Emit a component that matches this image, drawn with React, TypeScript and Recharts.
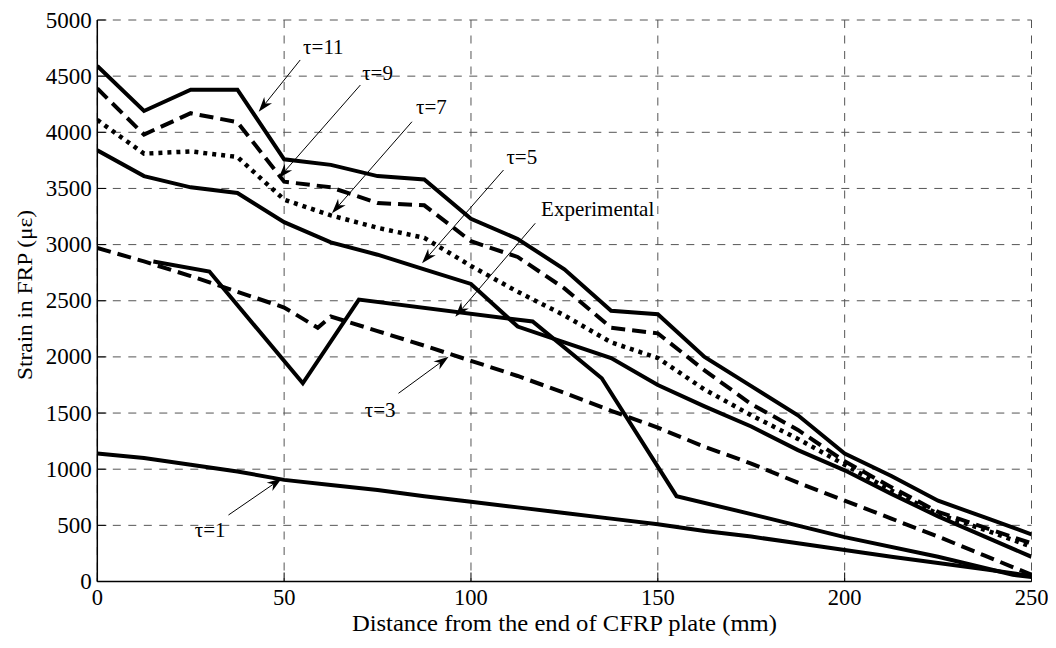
import React from "react";
import {
  LineChart,
  Line,
  XAxis,
  YAxis,
  CartesianGrid,
  ReferenceLine,
  ReferenceDot,
} from "recharts";

// model output grid (mm)
const gridX = [
  0, 12.5, 25, 37.5, 50, 62.5, 75, 87.5, 100, 112.5, 125, 137.5, 150, 162.5,
  175, 187.5, 200, 212.5, 225, 237.5, 250,
];

const tau11 = [
  4590, 4190, 4380, 4380, 3760, 3710, 3610, 3580, 3230, 3050, 2780, 2410, 2380,
  2000, 1740, 1480, 1140, 940, 720, 570, 420,
];
const tau9 = [
  4390, 3980, 4170, 4090, 3560, 3510, 3370, 3350, 3030, 2890, 2610, 2260, 2210,
  1880, 1580, 1350, 1070, 840, 620, 480, 340,
];
const tau7 = [
  4110, 3810, 3830, 3780, 3400, 3260, 3150, 3060, 2810, 2580, 2370, 2130, 1990,
  1710, 1480, 1270, 1040, 810, 600, 460, 310,
];
const tau5 = [
  3840, 3610, 3510, 3460, 3200, 3020, 2910, 2780, 2650, 2270, 2130, 1990, 1750,
  1560, 1380, 1170, 990, 780, 580, 400, 220,
];
const tau1 = [
  1140, 1100, 1040, 980, 905, 860, 815, 760, 710, 660, 610, 560, 510, 450, 400,
  340, 280, 220, 165, 110, 50,
];

const tau3X = [
  0, 12.5, 25, 37.5, 50, 59, 62.5, 75, 87.5, 100, 112.5, 125, 137.5, 150, 162.5,
  175, 187.5, 200, 212.5, 225, 237.5, 250,
];
const tau3 = [
  2970, 2850, 2720, 2580, 2440, 2260, 2360, 2230, 2100, 1965, 1830, 1680, 1520,
  1370, 1200, 1050, 880, 720, 560, 400, 230, 60,
];

const expX = [15, 30, 55, 70, 116.5, 135, 155, 175, 200, 225, 245, 250];
const expY = [2850, 2760, 1765, 2510, 2315, 1810, 760, 600, 395, 220, 60, 40];

const xTicks = [0, 50, 100, 150, 200, 250];
const yTicks = [0, 500, 1000, 1500, 2000, 2500, 3000, 3500, 4000, 4500, 5000];

// annotation: label centre (tx, ty), arrow tail (x1, y1) -> head (x2, y2)
const notes = [
  { text: "τ=11", tx: 60.5, ty: 4762, x1: 54.3, y1: 4644, x2: 43.2, y2: 4183 },
  { text: "τ=9", tx: 75.0, ty: 4524, x1: 70.4, y1: 4421, x2: 48.5, y2: 3590 },
  { text: "τ=7", tx: 89.4, ty: 4225, x1: 84.2, y1: 4094, x2: 62.8, y2: 3279 },
  { text: "τ=5", tx: 113.6, ty: 3776, x1: 108.7, y1: 3664, x2: 86.9, y2: 2834 },
  { text: "Experimental", tx: 133.9, ty: 3321, x1: 117.2, y1: 3190, x2: 95.8, y2: 2358 },
  { text: "τ=3", tx: 75.7, ty: 1527, x1: 80.6, y1: 1676, x2: 94.0, y2: 2002 },
  { text: "τ=1", tx: 30.2, ty: 463, x1: 35.1, y1: 592, x2: 49.4, y2: 919 },
];

const FONT = '"Liberation Serif", "Times New Roman", serif';
const TICK_IN = 9;

const pts = (xs: number[], ys: number[]) => xs.map((x, i) => ({ x, y: ys[i] }));

const LeftTick = ({ x, y, payload }: any) => (
  <g>
    <line x1={x} x2={x + TICK_IN} y1={y} y2={y} stroke="#000" strokeWidth={1} />
    <text x={x - 5.5} y={y} dy={7.5} textAnchor="end" fontSize={23} fontFamily={FONT} fill="#000">
      {payload.value}
    </text>
  </g>
);

const BottomTick = ({ x, y, payload }: any) => (
  <g>
    <line x1={x} x2={x} y1={y} y2={y - TICK_IN} stroke="#000" strokeWidth={1} />
    <text x={x} y={y + 23} textAnchor="middle" fontSize={22.5} fontFamily={FONT} fill="#000">
      {payload.value}
    </text>
  </g>
);

const TopTick = ({ x, y }: any) => (
  <line x1={x} x2={x} y1={y} y2={y + TICK_IN} stroke="#000" strokeWidth={1} />
);

const RightTick = ({ x, y }: any) => (
  <line x1={x} x2={x - TICK_IN} y1={y} y2={y} stroke="#000" strokeWidth={1} />
);

const Arrow = (props: any) => {
  const { x1, y1, x2, y2 } = props;
  const a = Math.atan2(y2 - y1, x2 - x1);
  const L = 15;
  const W = 5;
  const c = Math.cos(a);
  const s = Math.sin(a);
  const bx = x2 - L * c;
  const by = y2 - L * s;
  const nx = x2 - L * 0.7 * c;
  const ny = y2 - L * 0.7 * s;
  const p = [
    `${x2},${y2}`,
    `${bx - W * s},${by + W * c}`,
    `${nx},${ny}`,
    `${bx + W * s},${by - W * c}`,
  ].join(" ");
  return (
    <g>
      <line x1={x1} y1={y1} x2={nx} y2={ny} stroke="#000" strokeWidth={1} />
      <polygon points={p} fill="#000" />
    </g>
  );
};

const noteText = (text: string) => (props: any) => (
  <text
    x={props.cx}
    y={props.cy}
    dy={7}
    textAnchor="middle"
    fontSize={21}
    fontFamily={FONT}
    fill="#000"
  >
    {text}
  </text>
);

const XLabel = ({ viewBox }: any) => (
  <text
    x={viewBox.x + viewBox.width / 2}
    y={viewBox.y + 49}
    textAnchor="middle"
    fontSize={23.5}
    fontFamily={FONT}
    textLength={425}
    lengthAdjust="spacingAndGlyphs"
    fill="#000"
  >
    Distance from the end of CFRP plate (mm)
  </text>
);

const YLabel = () => {
  const cx = 24;
  const cy = 287;
  return (
    <text
      x={cx}
      y={cy}
      transform={`rotate(-90 ${cx} ${cy})`}
      textAnchor="middle"
      fontSize={22}
      fontFamily={FONT}
      textLength={170}
      lengthAdjust="spacingAndGlyphs"
      fill="#000"
    >
      Strain in FRP (με)
    </text>
  );
};

const lineCommon = {
  type: "linear" as const,
  dataKey: "y",
  stroke: "#000",
  strokeWidth: 4,
  dot: false,
  activeDot: false,
  isAnimationActive: false,
  strokeLinejoin: "miter" as const,
  strokeLinecap: "butt" as const,
};

export default function App() {
  return (
    <div style={{ width: 1040, height: 632, background: "#fff" }}>
      <LineChart
        width={1040}
        height={632}
        margin={{ top: 12, right: 16.5, bottom: 8.5, left: 9.3 }}
      >
        <CartesianGrid stroke="#555" strokeDasharray="8 7.5" strokeWidth={1} />
        <XAxis
          type="number"
          dataKey="x"
          domain={[0, 250]}
          ticks={xTicks}
          interval={0}
          height={50}
          tickSize={0}
          tickMargin={0}
          tickLine={false}
          tick={<BottomTick />}
          axisLine={{ stroke: "#000", strokeWidth: 1.5 }}
          label={<XLabel />}
          allowDataOverflow
        />
        <XAxis
          xAxisId="t"
          orientation="top"
          type="number"
          domain={[0, 250]}
          ticks={xTicks}
          interval={0}
          height={0}
          tickSize={0}
          tickMargin={0}
          tickLine={false}
          tick={<TopTick />}
          axisLine={{ stroke: "#000", strokeWidth: 1.5 }}
        />
        <YAxis
          type="number"
          domain={[0, 5000]}
          ticks={yTicks}
          interval={0}
          width={80}
          tickSize={0}
          tickMargin={0}
          tickLine={false}
          tick={<LeftTick />}
          axisLine={{ stroke: "#000", strokeWidth: 1.5 }}
          label={<YLabel />}
          allowDataOverflow
        />
        <YAxis
          yAxisId="r"
          orientation="right"
          type="number"
          domain={[0, 5000]}
          ticks={yTicks}
          interval={0}
          width={0}
          tickSize={0}
          tickMargin={0}
          tickLine={false}
          tick={<RightTick />}
          axisLine={{ stroke: "#000", strokeWidth: 1.5 }}
        />

        <Line {...lineCommon} data={pts(gridX, tau1)} name="τ=1" />
        <Line {...lineCommon} data={pts(tau3X, tau3)} name="τ=3" strokeDasharray="14 7" />
        <Line {...lineCommon} data={pts(expX, expY)} name="Experimental" />
        <Line {...lineCommon} data={pts(gridX, tau5)} name="τ=5" />
        <Line {...lineCommon} data={pts(gridX, tau7)} name="τ=7" strokeWidth={4.5} strokeDasharray="4 5" />
        <Line {...lineCommon} data={pts(gridX, tau9)} name="τ=9" strokeDasharray="14 7" />
        <Line {...lineCommon} data={pts(gridX, tau11)} name="τ=11" />

        {notes.map((n) => (
          <ReferenceLine
            key={`a-${n.text}`}
            segment={[
              { x: n.x1, y: n.y1 },
              { x: n.x2, y: n.y2 },
            ]}
            ifOverflow="visible"
            shape={Arrow}
          />
        ))}
        {notes.map((n) => (
          <ReferenceDot
            key={`t-${n.text}`}
            x={n.tx}
            y={n.ty}
            r={0}
            ifOverflow="visible"
            shape={noteText(n.text)}
          />
        ))}
      </LineChart>
    </div>
  );
}
